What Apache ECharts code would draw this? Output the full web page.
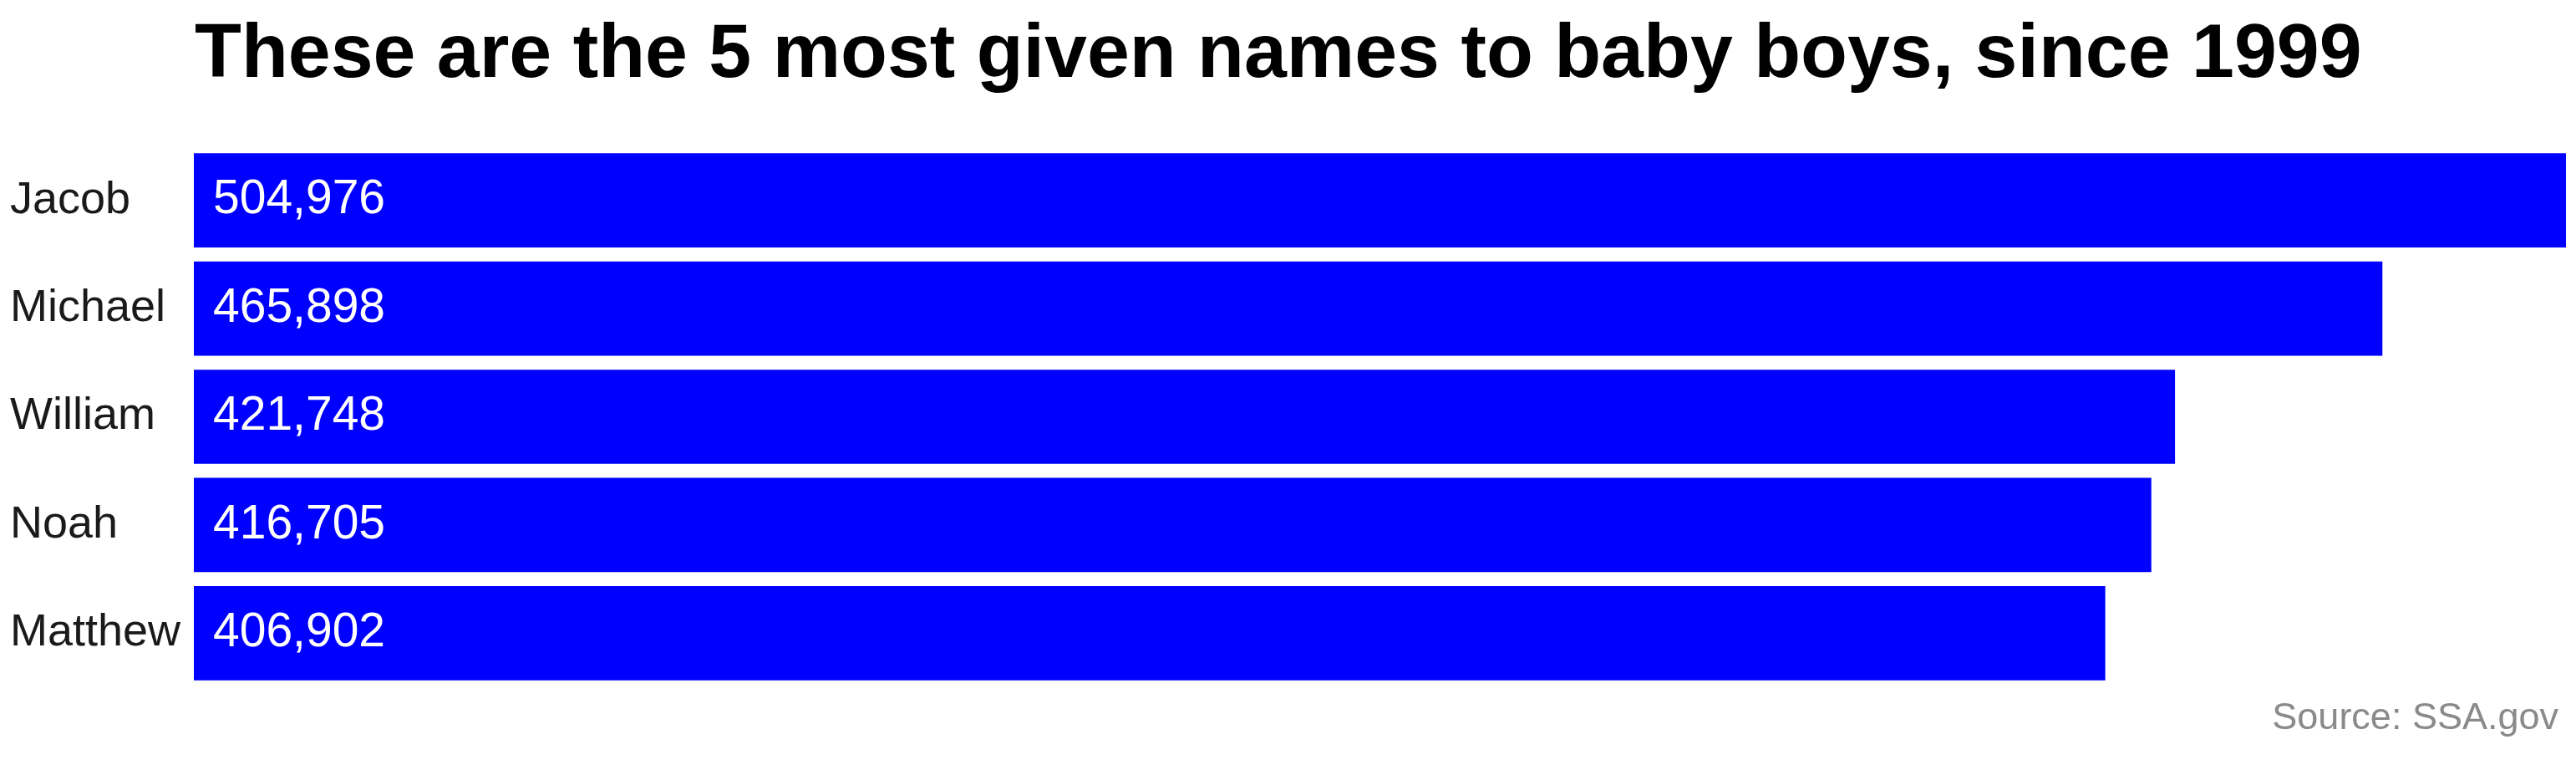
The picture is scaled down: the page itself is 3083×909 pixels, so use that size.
<!DOCTYPE html>
<html>
<head>
<meta charset="utf-8">
<script src="https://cdn.jsdelivr.net/npm/echarts@6/dist/echarts.min.js"></script>
<style>
  html, body { margin: 0; padding: 0; background: #ffffff; }
  #chart { width: 3083px; height: 909px; }
</style>
</head>
<body>
<div id="chart"></div>
<script>
const names = ['Jacob', 'Michael', 'William', 'Noah', 'Matthew'];
const counts = [504976, 465898, 421748, 416705, 406902];
const titleText = 'These are the 5 most given names to baby boys, since 1999';
const sourceText = 'Source: SSA.gov';

const FONT = '"Liberation Sans", Arial, Helvetica, sans-serif';
const chart = echarts.init(document.getElementById('chart'), null, { renderer: 'canvas' });

chart.setOption({
  backgroundColor: '#ffffff',
  animation: false,
  title: [{
    text: titleText,
    left: 228,
    top: 16,
    textStyle: { fontFamily: FONT, fontSize: 91.5, fontWeight: 'bold', color: '#000000' }
  }, {
    text: sourceText,
    right: 16,
    top: 832,
    textStyle: { fontFamily: FONT, fontSize: 45, fontWeight: 'normal', color: '#8a8a8a' }
  }],
  grid: { left: 232, right: 12, top: 175, bottom: 87, containLabel: false },
  xAxis: {
    type: 'value', min: 0, max: 'dataMax', show: false
  },
  yAxis: {
    type: 'category',
    data: names,
    inverse: true,
    axisLine: { show: false },
    axisTick: { show: false },
    splitLine: { show: false },
    axisLabel: {
      fontFamily: FONT, fontSize: 54, color: '#1a1a1a',
      align: 'left', margin: 220
    }
  },
  series: [{
    type: 'bar',
    data: counts,
    barCategoryGap: '12.9%',
    itemStyle: { color: '#0000ff' },
    label: {
      show: true,
      position: 'insideLeft',
      distance: 23,
      fontFamily: FONT,
      fontSize: 57,
      color: '#ffffff',
      formatter: p => p.value.toLocaleString('en-US')
    }
  }]
});
</script>
</body>
</html>
